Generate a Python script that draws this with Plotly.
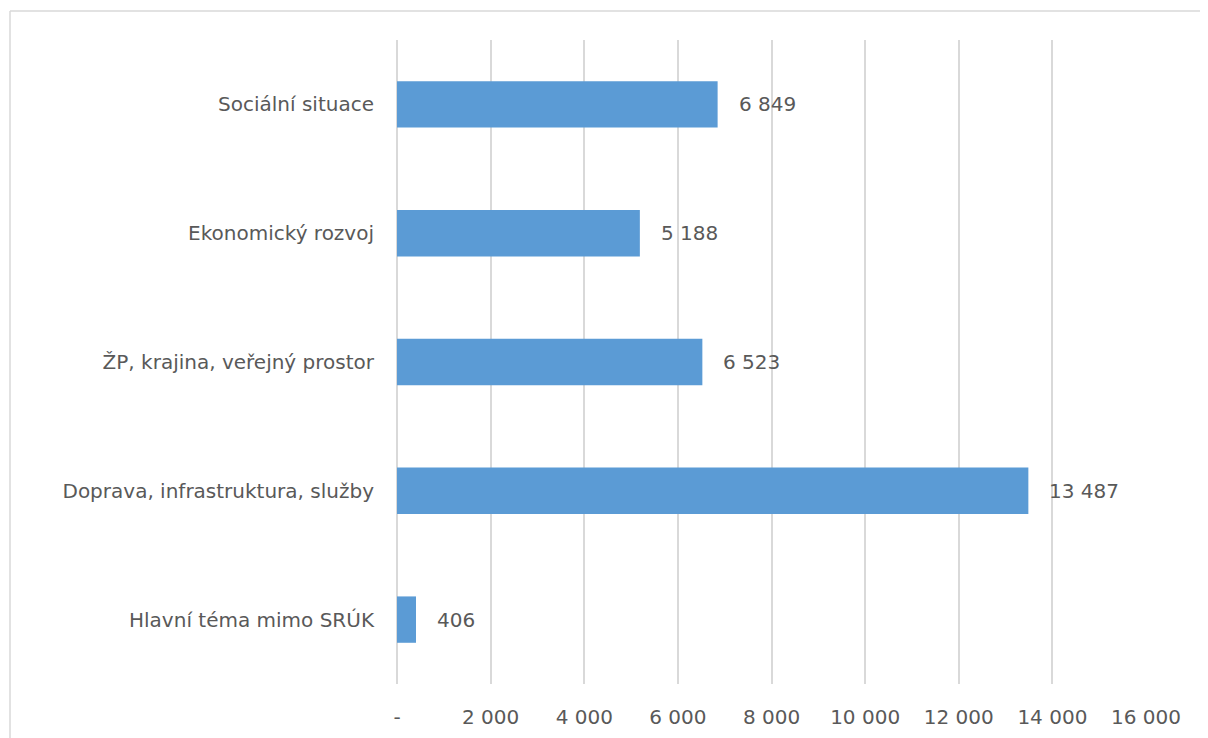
import plotly.graph_objects as go

categories = ["Sociální situace", "Ekonomický rozvoj", "ŽP, krajina, veřejný prostor",
              "Doprava, infrastruktura, služby", "Hlavní téma mimo SRÚK"]
values = [6849, 5188, 6523, 13487, 406]
tick_values = [0, 2000, 4000, 6000, 8000, 10000, 12000, 14000, 16000]
tick_labels = ["-", "2 000", "4 000", "6 000", "8 000", "10 000", "12 000", "14 000", "16 000"]

FONT = "DejaVu Sans"
FS = 20
TXT = "#595959"
OFF = 8  # page body margin

def fmt(v):
    return f"{v:,}".replace(",", " ")

fig = go.Figure()
fig.add_trace(go.Bar(
    y=categories, x=values, orientation="h",
    marker=dict(color="#5B9BD5", line=dict(width=0)),
    width=0.36, hoverinfo="skip",
))

for c, v in zip(categories, values):
    fig.add_annotation(x=v, y=c, text=fmt(v), showarrow=False, xanchor="left",
                       xshift=19, font=dict(family=FONT, size=FS, color=TXT))

W, H = 1208 - OFF, 738 - OFF
L, T = 397 - OFF, 40 - OFF
R = W - (1146 - OFF)
B = H - (684 - OFF)
pw, ph = W - L - R, H - T - B
bx0 = (10 - OFF - L) / pw
by1 = (H - B - (11 - OFF)) / ph
border = dict(color="#D9D9D9", width=1.5)
fig.add_shape(type="line", xref="paper", yref="paper", x0=bx0, x1=(W + 200 - L) / pw,
              y0=by1, y1=by1, line=border, layer="below")
fig.add_shape(type="line", xref="paper", yref="paper", x0=bx0, x1=bx0,
              y0=-(B + 200) / ph, y1=by1, line=border, layer="below")

fig.update_layout(
    width=W, height=H,
    margin=dict(l=L, r=R, t=T, b=B),
    paper_bgcolor="white", plot_bgcolor="white",
    showlegend=False,
    font=dict(family=FONT, size=FS, color=TXT),
    xaxis=dict(range=[0, 16000], tickvals=tick_values, ticktext=tick_labels,
               showgrid=True, gridcolor="#D9D9D9", gridwidth=1.5,
               zeroline=True, zerolinecolor="#D9D9D9", zerolinewidth=1.5,
               showline=False, ticks="", ticklabelstandoff=19, fixedrange=True,
               automargin=False),
    yaxis=dict(autorange="reversed", showgrid=False, zeroline=False, showline=False,
               ticks="", ticklabelstandoff=22, fixedrange=True, automargin=False),
)

fig.write_html("out.html")
